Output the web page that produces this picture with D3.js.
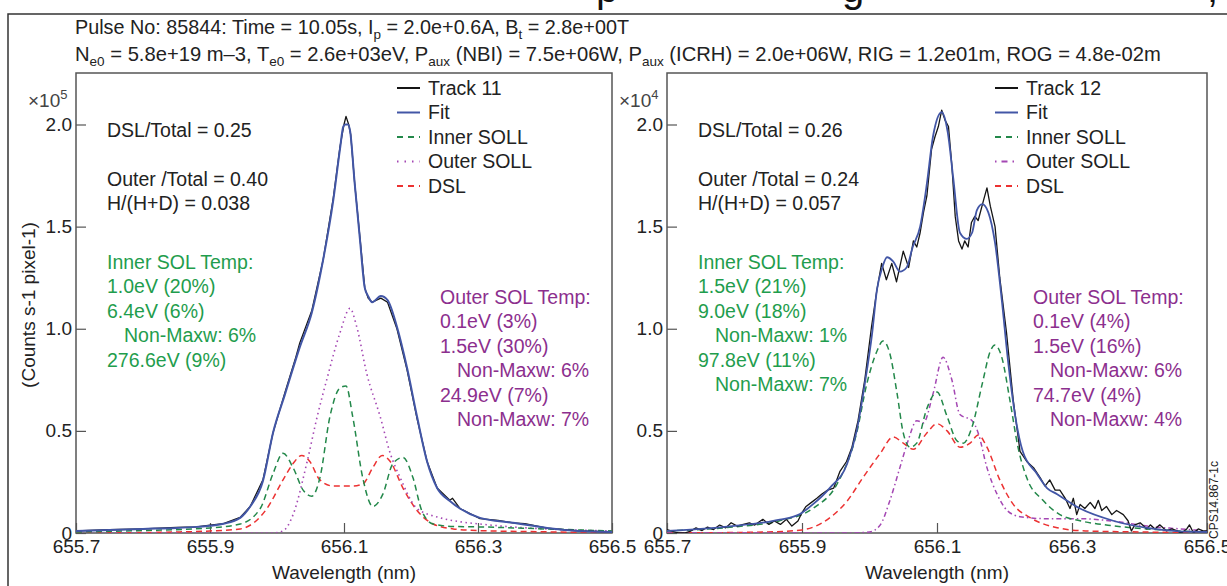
<!DOCTYPE html>
<html>
<head>
<meta charset="utf-8">
<script src="https://cdn.jsdelivr.net/npm/d3@7"></script>
<style>
  body { margin: 0; background: #fff; }
  svg { display: block; font-family: "Liberation Sans", Arial, sans-serif; }
</style>
</head>
<body>
<svg width="1227" height="586"></svg>
<script>
// ---- data (wavelength nm, counts in panel units) ----
const ticksX = [655.7, 655.9, 656.1, 656.3, 656.5];
const ticksY = [0, 0.5, 1.0, 1.5, 2.0];

// left panel, x10^5
const fit11 = [[655.70,0.01],[655.75,0.015],[655.80,0.02],[655.85,0.025],[655.88,0.03],[655.90,0.035],[655.92,0.045],
  [655.945,0.074],[655.96,0.13],[655.979,0.255],[655.994,0.49],[656.012,0.68],[656.034,0.91],[656.052,1.08],[656.069,1.34],
  [656.084,1.63],[656.094,1.88],[656.099,1.99],[656.102,2.0],[656.106,2.0],[656.109,1.97],[656.116,1.71],[656.124,1.43],
  [656.131,1.2],[656.136,1.16],[656.142,1.13],[656.155,1.16],[656.165,1.14],[656.179,1.01],[656.194,0.81],[656.209,0.57],
  [656.224,0.35],[656.239,0.22],[656.258,0.157],[656.273,0.12],[656.303,0.074],[656.352,0.05],[656.403,0.025],[656.45,0.01],[656.50,0.005]];
const track11 = [[655.70,0.01],[655.75,0.016],[655.80,0.02],[655.85,0.027],[655.88,0.03],[655.90,0.038],[655.92,0.046],
  [655.945,0.076],[655.96,0.13],[655.979,0.26],[655.994,0.49],[656.012,0.69],[656.028,0.86],[656.034,0.93],[656.052,1.09],[656.069,1.34],
  [656.084,1.64],[656.094,1.89],[656.100,2.0],[656.103,2.04],[656.107,2.0],[656.110,1.95],[656.116,1.71],[656.124,1.44],
  [656.131,1.2],[656.136,1.15],[656.142,1.13],[656.155,1.15],[656.165,1.13],[656.179,1.0],[656.194,0.8],[656.209,0.56],
  [656.224,0.35],[656.239,0.22],[656.258,0.16],[656.262,0.17],[656.273,0.12],[656.303,0.07],[656.330,0.062],[656.352,0.05],
  [656.370,0.046],[656.403,0.024],[656.45,0.01],[656.50,0.005]];
const inner11 = [[655.70,0.005],[655.80,0.012],[655.90,0.025],[655.945,0.044],[655.975,0.12],[655.994,0.29],[656.009,0.39],
  [656.024,0.32],[656.039,0.21],[656.052,0.18],[656.064,0.27],[656.079,0.57],[656.094,0.71],[656.103,0.72],[656.113,0.57],
  [656.128,0.27],[656.143,0.13],[656.158,0.19],[656.173,0.34],[656.188,0.37],[656.203,0.27],[656.216,0.11],[656.233,0.044],
  [656.263,0.032],[656.30,0.03],[656.40,0.02],[656.50,0.01]];
const outer11 = [[655.70,0.0],[655.994,0.0],[656.009,0.01],[656.024,0.09],[656.045,0.35],[656.060,0.57],[656.075,0.76],
  [656.094,0.98],[656.109,1.1],[656.119,1.01],[656.134,0.78],[656.154,0.57],[656.169,0.39],[656.184,0.27],[656.209,0.12],
  [656.243,0.075],[656.273,0.055],[656.30,0.045],[656.35,0.03],[656.40,0.02],[656.50,0.01]];
const dsl11 = [[655.70,0.0],[655.85,0.005],[655.90,0.01],[655.945,0.02],[655.985,0.12],[656.009,0.26],[656.024,0.34],
  [656.037,0.38],[656.049,0.35],[656.064,0.26],[656.084,0.23],[656.113,0.23],[656.128,0.24],[656.143,0.32],[656.157,0.38],
  [656.169,0.35],[656.188,0.22],[656.209,0.11],[656.233,0.044],[656.263,0.02],[656.30,0.012],[656.40,0.006],[656.50,0.0]];

// right panel, x10^4
const fit12 = [[655.70,0.01],[655.75,0.02],[655.80,0.035],[655.85,0.055],[655.867,0.065],[655.897,0.093],[655.916,0.14],
  [655.941,0.22],[655.967,0.34],[655.981,0.50],[655.993,0.73],[656.004,0.98],[656.011,1.19],[656.019,1.30],[656.026,1.35],
  [656.035,1.33],[656.045,1.28],[656.055,1.30],[656.064,1.40],[656.075,1.50],[656.085,1.71],[656.094,1.94],[656.107,2.06],
  [656.116,1.96],[656.124,1.74],[656.134,1.47],[656.144,1.44],[656.152,1.47],[656.159,1.58],[656.167,1.61],[656.176,1.57],
  [656.186,1.42],[656.196,1.14],[656.205,0.85],[656.216,0.57],[656.227,0.40],[656.248,0.29],[656.263,0.22],[656.278,0.19],
  [656.312,0.12],[656.361,0.06],[656.411,0.025],[656.46,0.008],[656.50,0.005]];
const track12 = [[655.700,0.017],[655.708,0.008],[655.717,0.0],[655.726,0.0],[655.734,0.008],[655.743,0.025],[655.752,0.012],
  [655.760,0.029],[655.769,0.017],[655.778,0.039],[655.787,0.025],[655.795,0.05],[655.804,0.034],[655.813,0.042],[655.822,0.05],
  [655.830,0.039],[655.842,0.067],[655.851,0.042],[655.859,0.059],[655.868,0.042],[655.877,0.067],[655.885,0.034],[655.894,0.059],
  [655.900,0.10],[655.906,0.13],[655.914,0.15],[655.922,0.17],[655.929,0.19],[655.938,0.21],[655.947,0.22],[655.956,0.30],
  [655.966,0.35],[655.974,0.42],[655.983,0.55],[655.993,0.75],[656.003,1.01],[656.011,1.19],[656.018,1.32],[656.025,1.24],
  [656.033,1.32],[656.040,1.23],[656.050,1.38],[656.058,1.30],[656.065,1.43],[656.070,1.40],[656.075,1.47],[656.080,1.57],
  [656.085,1.65],[656.092,1.88],[656.097,1.94],[656.102,1.99],[656.107,2.07],[656.112,2.02],[656.117,1.99],[656.122,1.80],
  [656.127,1.55],[656.132,1.43],[656.137,1.39],[656.141,1.43],[656.146,1.40],[656.151,1.52],[656.156,1.55],[656.161,1.53],
  [656.169,1.63],[656.174,1.69],[656.179,1.60],[656.186,1.50],[656.193,1.25],[656.203,0.98],[656.213,0.65],[656.223,0.40],
  [656.233,0.35],[656.243,0.32],[656.253,0.27],[656.260,0.23],[656.267,0.26],[656.275,0.21],[656.282,0.21],[656.290,0.17],
  [656.297,0.12],[656.302,0.17],[656.307,0.09],[656.312,0.14],[656.319,0.12],[656.327,0.15],[656.334,0.12],[656.339,0.16],
  [656.344,0.11],[656.351,0.13],[656.359,0.09],[656.366,0.11],[656.376,0.09],[656.383,0.06],[656.388,0.01],[656.393,0.04],
  [656.401,0.05],[656.411,0.02],[656.416,0.04],[656.423,0.02],[656.430,0.04],[656.440,0.01],[656.448,0.02],[656.456,0.01],
  [656.462,0.0],[656.470,0.02],[656.474,0.04],[656.480,0.0],[656.487,0.02],[656.494,0.01],[656.500,0.01]];
const inner12 = [[655.70,0.01],[655.80,0.03],[655.867,0.06],[655.916,0.12],[655.952,0.24],[655.981,0.49],[655.996,0.73],
  [656.011,0.89],[656.020,0.94],[656.030,0.88],[656.041,0.68],[656.050,0.49],[656.060,0.42],[656.070,0.44],[656.085,0.61],
  [656.100,0.69],[656.115,0.57],[656.130,0.45],[656.139,0.44],[656.152,0.52],[656.167,0.73],[656.179,0.89],[656.186,0.92],
  [656.196,0.86],[656.208,0.65],[656.220,0.42],[656.233,0.27],[656.257,0.16],[656.282,0.09],[656.312,0.06],[656.361,0.035],
  [656.411,0.02],[656.46,0.01],[656.50,0.005]];
const outer12 = [[655.70,0.0],[655.967,0.0],[656.000,0.005],[656.016,0.04],[656.030,0.157],[656.045,0.32],[656.057,0.45],
  [656.070,0.55],[656.080,0.54],[656.094,0.68],[656.109,0.86],[656.122,0.75],[656.134,0.58],[656.152,0.55],[656.161,0.49],
  [656.174,0.32],[656.189,0.19],[656.204,0.11],[656.223,0.08],[656.263,0.07],[656.312,0.07],[656.361,0.058],[656.411,0.034],
  [656.46,0.02],[656.50,0.01]];
const dsl12 = [[655.70,0.0],[655.85,0.005],[655.90,0.015],[655.941,0.074],[655.967,0.157],[655.990,0.27],[656.016,0.39],
  [656.035,0.47],[656.050,0.44],[656.065,0.41],[656.085,0.49],[656.100,0.535],[656.115,0.50],[656.134,0.42],[656.149,0.44],
  [656.161,0.48],[656.174,0.42],[656.193,0.26],[656.213,0.14],[656.238,0.075],[656.278,0.026],[656.32,0.01],[656.40,0.005],[656.50,0.0]];

const ratiosL = ['DSL/Total = 0.25', '', 'Outer /Total = 0.40', 'H/(H+D) = 0.038'];
const ratiosR = ['DSL/Total = 0.26', '', 'Outer /Total = 0.24', 'H/(H+D) = 0.057'];
const innerTempL = ['Inner SOL Temp:', '1.0eV (20%)', '6.4eV (6%)', 'Non-Maxw: 6%', '276.6eV (9%)'];
const innerTempR = ['Inner SOL Temp:', '1.5eV (21%)', '9.0eV (18%)', 'Non-Maxw: 1%', '97.8eV (11%)', 'Non-Maxw: 7%'];
const outerTempL = ['Outer SOL Temp:', '0.1eV (3%)', '1.5eV (30%)', 'Non-Maxw: 6%', '24.9eV (7%)', 'Non-Maxw: 7%'];
const outerTempR = ['Outer SOL Temp:', '0.1eV (4%)', '1.5eV (16%)', 'Non-Maxw: 6%', '74.7eV (4%)', 'Non-Maxw: 4%'];

const C = {
  track: '#151515', fit: '#4256a6', inner: '#23884a', outer: '#a447b3', dsl: '#ec3232',
  greenText: '#1f9d4d', purpleText: '#8c2f8e', ink: '#222', axis: '#555'
};

const svg = d3.select('svg');
svg.append('rect').attr('width', 1227).attr('height', 586).attr('fill', '#fff');

// cropped title descenders above the figure
const topClip = svg.append('clipPath').attr('id', 'topclip');
topClip.append('rect').attr('x', 0).attr('y', 0).attr('width', 1227).attr('height', 13);
const titleG = svg.append('g').attr('clip-path', 'url(#topclip)')
  .style('font-size', '40px').attr('fill', '#111');
titleG.append('text').attr('x', 596).attr('y', 2).text('p');
titleG.append('text').attr('x', 842).attr('y', 2).text('g');
titleG.append('text').attr('x', 1207).attr('y', 2).text(',');

// outer frame
svg.append('path').attr('d', 'M8,586V14H1227').attr('fill', 'none')
  .attr('stroke', '#333').attr('stroke-width', 1.5);

// header
const hdr = svg.append('g').attr('fill', C.ink);
const sub = (t, s) => {
  t.append('tspan').attr('dy', 5).style('font-size', '13.5px').text(s);
};
const h1 = hdr.append('text').attr('x', 75).attr('y', 34).style('font-size', '19.8px');
h1.append('tspan').text('Pulse No: 85844: Time = 10.05s, I');
sub(h1, 'p');
h1.append('tspan').attr('dy', -5).text(' = 2.0e+0.6A, B');
sub(h1, 't');
h1.append('tspan').attr('dy', -5).text(' = 2.8e+00T');
const h2 = hdr.append('text').attr('x', 75).attr('y', 61).style('font-size', '20.2px');
h2.append('tspan').text('N');
sub(h2, 'e0');
h2.append('tspan').attr('dy', -5).text(' = 5.8e+19 m\u20133, T');
sub(h2, 'e0');
h2.append('tspan').attr('dy', -5).text(' = 2.6e+03eV, P');
sub(h2, 'aux');
h2.append('tspan').attr('dy', -5).text(' (NBI) = 7.5e+06W, P');
sub(h2, 'aux');
h2.append('tspan').attr('dy', -5).text(' (ICRH) = 2.0e+06W, RIG = 1.2e01m, ROG = 4.8e-02m');

function drawPanel(p) {
  const x = d3.scaleLinear().domain([655.7, 656.5]).range([p.left, p.right]);
  const y = d3.scaleLinear().domain([0, 2]).range([533, 124.5]);
  const top = 73;
  const g = svg.append('g');

  g.append('clipPath').attr('id', p.id).append('rect')
    .attr('x', p.left).attr('y', top).attr('width', p.right - p.left).attr('height', 533 - top);

  // axes
  const ax = g.append('g').attr('transform', 'translate(0,533)')
    .call(d3.axisBottom(x).tickValues(ticksX).tickSizeInner(-10).tickSizeOuter(0).tickPadding(7)
      .tickFormat(d3.format('.1f')));
  const ay = g.append('g').attr('transform', `translate(${p.left},0)`)
    .call(d3.axisLeft(y).tickValues(ticksY).tickSizeInner(-10).tickSizeOuter(0).tickPadding(4)
      .tickFormat(d => d === 0 ? '0' : d3.format('.1f')(d)));
  [ax, ay].forEach(a => {
    a.select('.domain').remove();
    a.selectAll('line').attr('stroke', C.axis).attr('stroke-width', 1.2);
    a.selectAll('text').attr('fill', C.ink).style('font-size', '19px')
      .style('font-family', '"Liberation Sans", Arial, sans-serif');
  });
  g.append('rect').attr('x', p.left).attr('y', top).attr('width', p.right - p.left).attr('height', 533 - top)
    .attr('fill', 'none').attr('stroke', C.axis).attr('stroke-width', 1.5);

  // multiplier
  const mul = g.append('text').attr('x', p.left - 48).attr('y', 107).attr('fill', '#444').style('font-size', '19px');
  mul.append('tspan').text('\u00d710');
  mul.append('tspan').attr('dy', -8).style('font-size', '13px').text(p.exp);

  g.append('text').attr('x', (p.left + p.right) / 2).attr('y', 579).attr('text-anchor', 'middle')
    .attr('fill', C.ink).style('font-size', '19px').text('Wavelength (nm)');

  // curves
  const smooth = d3.line().x(d => x(d[0])).y(d => y(d[1])).curve(d3.curveMonotoneX);
  const raw = d3.line().x(d => x(d[0])).y(d => y(d[1]));
  const plot = g.append('g').attr('clip-path', `url(#${p.id})`).attr('fill', 'none');
  p.series.forEach(s => {
    plot.append('path').datum(s.data).attr('d', s.noisy ? raw : smooth)
      .attr('stroke', s.color).attr('stroke-width', s.width).attr('stroke-dasharray', s.dash || null)
      .attr('stroke-linejoin', 'round');
  });

  // legend
  const leg = g.append('g').attr('transform', `translate(${p.legendX},88)`);
  p.legend.forEach((s, i) => {
    const row = leg.append('g').attr('transform', `translate(0,${i * 24.5})`);
    row.append('line').attr('x1', 0).attr('x2', 23).attr('stroke', s.color).attr('stroke-width', 2)
      .attr('stroke-dasharray', s.dash || null);
    row.append('text').attr('x', 31).attr('dy', '0.35em').attr('fill', C.ink).style('font-size', '19.5px').text(s.label);
  });

  // annotations
  const block = (lines, x0, y0, color) => {
    lines.forEach((t, i) => {
      if (!t) return;
      g.append('text').attr('x', x0 + (t.startsWith('Non') ? 17 : 0)).attr('y', y0 + i * 24.5)
        .attr('dy', '0.35em').attr('fill', color).style('font-size', '19.5px').text(t);
    });
  };
  block(p.ratios, p.left + 31, 130, C.ink);
  block(p.innerTemp, p.left + 31, 262, C.greenText);
  block(p.outerTemp, p.outerX, 297, C.purpleText);
}

const style = (label, data, color, width, dash, noisy) => ({ label, data, color, width, dash, noisy });

drawPanel({
  id: 'clipL', left: 76, right: 612, exp: '5', legendX: 397, outerX: 440,
  ratios: ratiosL, innerTemp: innerTempL, outerTemp: outerTempL,
  series: [
    style('DSL', dsl11, C.dsl, 1.5, '6,4'),
    style('Outer SOLL', outer11, C.outer, 1.6, '1.5,3.5'),
    style('Inner SOLL', inner11, C.inner, 1.5, '6,4'),
    style('Track 11', track11, C.track, 1.3, null, true),
    style('Fit', fit11, C.fit, 2, null)
  ],
  legend: [
    style('Track 11', null, C.track, 2, null),
    style('Fit', null, C.fit, 2, null),
    style('Inner SOLL', null, C.inner, 2, '6,5'),
    style('Outer SOLL', null, C.outer, 2, '1.5,6'),
    style('DSL', null, C.dsl, 2, '6,5')
  ]
});

drawPanel({
  id: 'clipR', left: 667, right: 1207, exp: '4', legendX: 995, outerX: 1033,
  ratios: ratiosR, innerTemp: innerTempR, outerTemp: outerTempR,
  series: [
    style('DSL', dsl12, C.dsl, 1.5, '6,4'),
    style('Outer SOLL', outer12, C.outer, 1.5, '5,3,1.5,3'),
    style('Inner SOLL', inner12, C.inner, 1.5, '6,4'),
    style('Track 12', track12, C.track, 1.3, null, true),
    style('Fit', fit12, C.fit, 1.8, null)
  ],
  legend: [
    style('Track 12', null, C.track, 2, null),
    style('Fit', null, C.fit, 2, null),
    style('Inner SOLL', null, C.inner, 2, '6,5'),
    style('Outer SOLL', null, C.outer, 2, '1.5,5,6,5'),
    style('DSL', null, C.dsl, 2, '6,5')
  ]
});

// y label and figure code
svg.append('text').attr('transform', 'translate(35,305) rotate(-90)').attr('text-anchor', 'middle')
  .attr('fill', C.ink).style('font-size', '19px').text('(Counts s-1 pixel-1)');
svg.append('text').attr('transform', 'translate(1218,500) rotate(-90)').attr('text-anchor', 'middle')
  .attr('fill', C.ink).style('font-size', '12px').text('CPS14.867-1c');
</script>
</body>
</html>
